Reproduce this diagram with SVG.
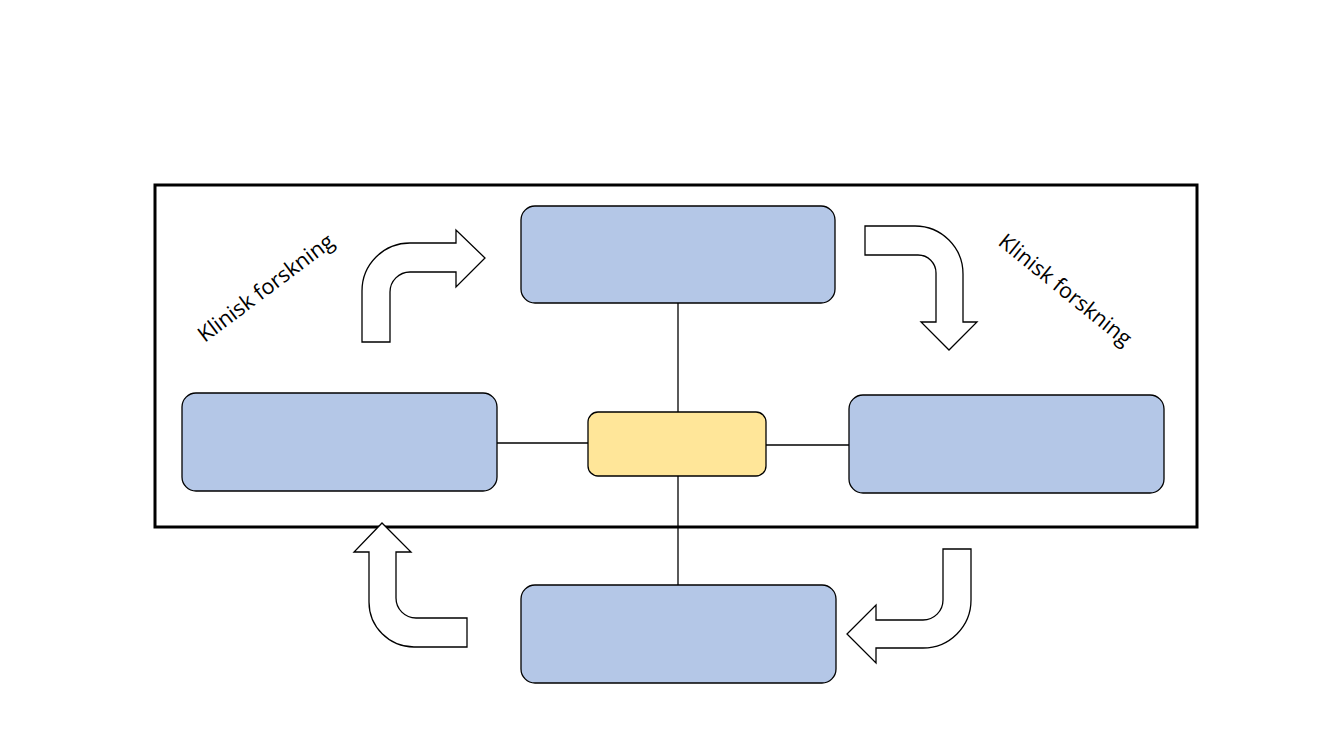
<svg xmlns="http://www.w3.org/2000/svg" width="1333" height="750" viewBox="0 0 1333 750">
<style>
.box{fill:#B4C7E7;stroke:#000;stroke-width:1.3}
.hub{fill:#FFE699;stroke:#000;stroke-width:1.3}
.arr{fill:#fff;stroke:#000;stroke-width:1.3;stroke-linejoin:miter}
.ln{stroke:#000;stroke-width:1.3;fill:none}
.lbl{font-family:"Open Sans","Noto Sans",sans-serif;font-size:21.5px;fill:#000;text-anchor:middle;dominant-baseline:central}
</style>
<rect x="0" y="0" width="1333" height="750" fill="#fff"/>
<g id="frame"><rect x="155" y="185" width="1042" height="342" fill="none" stroke="#000" stroke-width="3"/></g>
<g id="connectors">
<line class="ln" x1="678" y1="303" x2="678" y2="412"/>
<line class="ln" x1="678" y1="476" x2="678" y2="585"/>
<line class="ln" x1="497" y1="443" x2="588" y2="443"/>
<line class="ln" x1="766" y1="445" x2="849" y2="445"/>
</g>
<g id="node-top"><rect class="box" x="521" y="206" width="314" height="97" rx="14"/></g>
<g id="node-left"><rect class="box" x="182" y="393" width="315" height="98" rx="14"/></g>
<g id="node-right"><rect class="box" x="849" y="395" width="315" height="98" rx="14"/></g>
<g id="node-bottom"><rect class="box" x="521" y="585" width="315" height="98" rx="14"/></g>
<g id="node-center"><rect class="hub" x="588" y="412" width="178" height="64" rx="10"/></g>
<g id="arrow-tl"><path class="arr" d="M362,342 L362,291 A48,48 0 0 1 410,243 L456,243 L456,230 L485,258 L456,287 L456,272 L410,272 A20,20 0 0 0 390,292 L390,342 Z"/></g>
<g id="arrow-tr"><path class="arr" d="M865,226 L915,226 A48,48 0 0 1 963,274 L963,322 L977,322 L949,350 L921,322 L936,322 L936,273 A18,18 0 0 0 918,255 L865,255 Z"/></g>
<g id="arrow-bl"><path class="arr" d="M369,552 L354,552 L382,523 L411,552 L396,552 L396,598 A20,20 0 0 0 416,618 L467,618 L467,647 L414,647 A45,45 0 0 1 369,602 Z"/></g>
<g id="arrow-br"><path class="arr" d="M943,549 L971,549 L971,600 A48,48 0 0 1 923,648 L876,648 L876,663 L847,634 L876,605 L876,620 L923,620 A20,20 0 0 0 943,600 Z"/></g>
<g id="label-left"><text class="lbl" transform="translate(265,287) rotate(-37)">Klinisk forskning</text></g>
<g id="label-right"><text class="lbl" transform="translate(1066,289) rotate(39)">Klinisk forskning</text></g>
</svg>
